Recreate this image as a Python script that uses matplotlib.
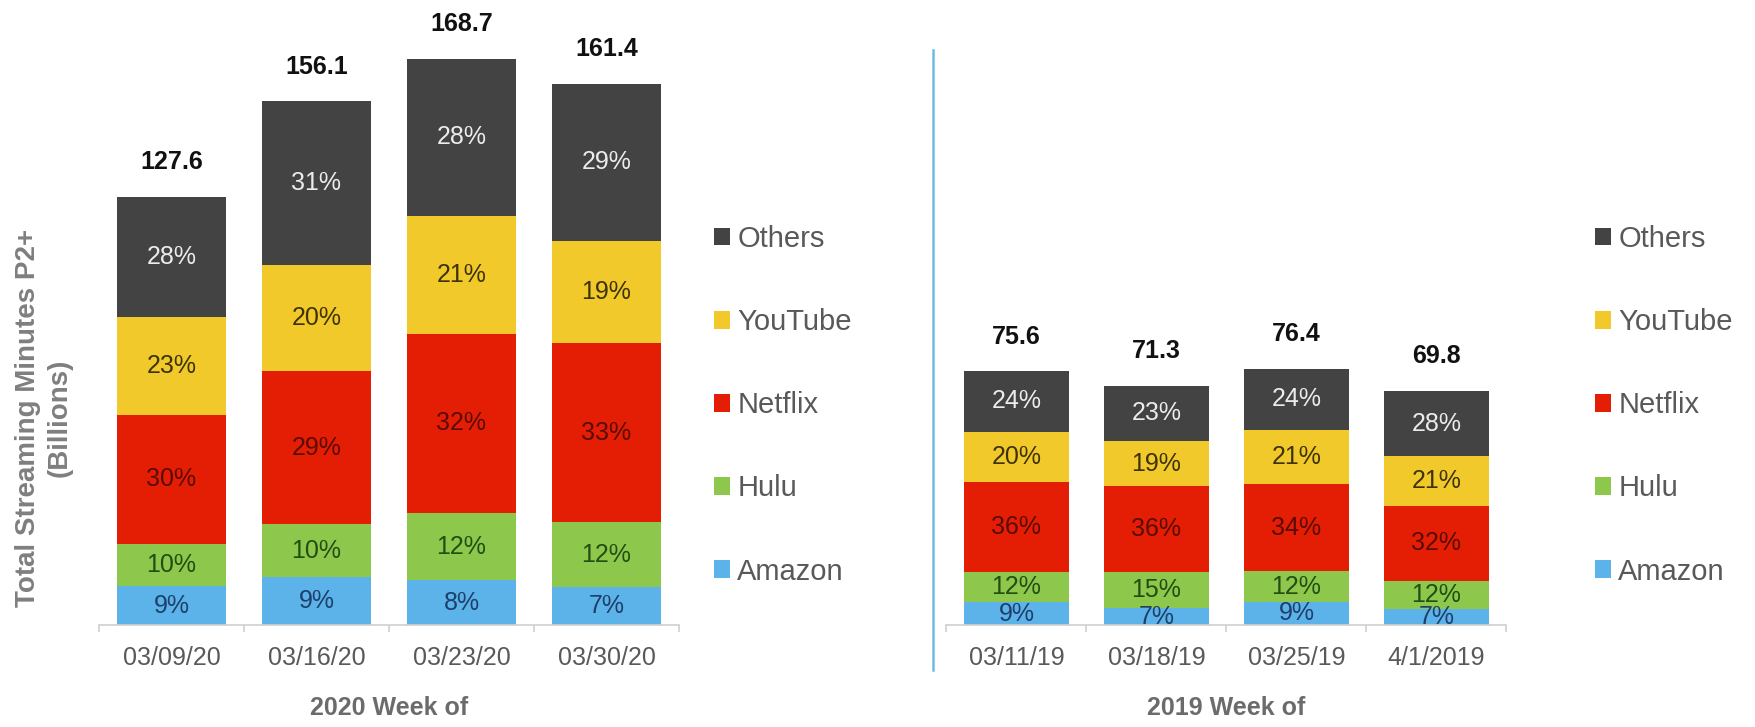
import matplotlib.pyplot as plt
import numpy as np

# данные
services = ['Amazon', 'Hulu', 'Netflix', 'YouTube', 'Others']
colors = ['#5cb3ea', '#8dc84c', '#e41e05', '#f2c92a', '#434343']
text_colors = ['#1d3f6a', '#234d12', '#5a0b02', '#3d3306', '#ececec']

weeks_2020 = ['03/09/20', '03/16/20', '03/23/20', '03/30/20']
totals_2020 = [127.6, 156.1, 168.7, 161.4]
amazon_2020 = [9, 9, 8, 7]
hulu_2020 = [10, 10, 12, 12]
netflix_2020 = [30, 29, 32, 33]
youtube_2020 = [23, 20, 21, 19]
others_2020 = [28, 31, 28, 29]

weeks_2019 = ['03/11/19', '03/18/19', '03/25/19', '4/1/2019']
totals_2019 = [75.6, 71.3, 76.4, 69.8]
amazon_2019 = [9, 7, 9, 7]
hulu_2019 = [12, 15, 12, 12]
netflix_2019 = [36, 36, 34, 32]
youtube_2019 = [20, 19, 21, 21]
others_2019 = [24, 23, 24, 28]

plt.rcParams['font.family'] = ['Liberation Sans', 'DejaVu Sans']

W, H = 1756, 727
fig = plt.figure(figsize=(W / 100, H / 100), dpi=100)
base_y = 625
px_per_unit = 3.355


def draw_panel(ax, weeks, totals, shares, xlabel):
    shares = np.array(shares, dtype=float)
    totals = np.array(totals)
    x = np.arange(len(weeks))
    values = shares / shares.sum(axis=0) * totals
    bottom = np.zeros(len(weeks))
    for i, name in enumerate(services):
        bars = ax.bar(x, values[i], 0.75, bottom=bottom, color=colors[i], label=name)
        for j, b in enumerate(bars):
            ax.text(b.get_x() + b.get_width() / 2, bottom[j] + values[i][j] / 2,
                    f'{int(shares[i][j])}%', ha='center', va='center',
                    fontsize=18, color=text_colors[i])
        bottom += values[i]
    for j in range(len(weeks)):
        ax.annotate(f'{totals[j]:.1f}', (x[j], totals[j]), xytext=(0, 25),
                    textcoords='offset points', ha='center', va='center',
                    fontsize=18, fontweight='bold', color='#111111')
    ax.set_xlim(-0.5, len(weeks) - 0.5)
    ax.set_ylim(0, base_y / px_per_unit)
    ax.set_xticks(x)
    ax.set_xticklabels(weeks, fontsize=18, color='#595959')
    ax.set_xticks(np.arange(-0.5, len(weeks)), minor=True)
    ax.tick_params(axis='x', which='major', length=0, pad=15)
    ax.tick_params(axis='x', which='minor', length=5, color='#d0d0d0', width=1.2)
    ax.set_yticks([])
    for s in ['top', 'right', 'left']:
        ax.spines[s].set_visible(False)
    ax.spines['bottom'].set_color('#d0d0d0')
    ax.spines['bottom'].set_linewidth(1.2)
    ax.set_xlabel(xlabel, fontsize=18, fontweight='bold', color='#6b6b6b', labelpad=19)
    handles, labels = ax.get_legend_handles_labels()
    return handles[::-1], labels[::-1]


ax1 = fig.add_axes([99 / W, (H - base_y) / H, 580 / W, base_y / H])
h, l = draw_panel(ax1, weeks_2020, totals_2020,
                  [amazon_2020, hulu_2020, netflix_2020, youtube_2020, others_2020],
                  '2020 Week of')
ax2 = fig.add_axes([946.5 / W, (H - base_y) / H, 560 / W, base_y / H])
draw_panel(ax2, weeks_2019, totals_2019,
           [amazon_2019, hulu_2019, netflix_2019, youtube_2019, others_2019],
           '2019 Week of')

for x0 in [714, 1595]:
    fig.legend(h, l, loc='upper left', bbox_to_anchor=(x0 / W, 1 - 225 / H),
               frameon=False, fontsize=21, labelcolor='#595959',
               handlelength=0.55, handleheight=0.55, handletextpad=0.25,
               labelspacing=1.89, borderpad=0, borderaxespad=0)

fig.text(44 / W, 1 - 418 / H, 'Total Streaming Minutes P2+\n(Billions)', rotation=90,
         ha='center', va='center', fontsize=20, fontweight='bold', color='#7f7f7f',
         linespacing=1.3)

fig.add_artist(plt.Line2D([933 / W, 933 / W], [1 - 50 / H, 1 - 670 / H],
                          color='#6fbbe6', linewidth=1.8))

fig.savefig('out.png', dpi=100)
